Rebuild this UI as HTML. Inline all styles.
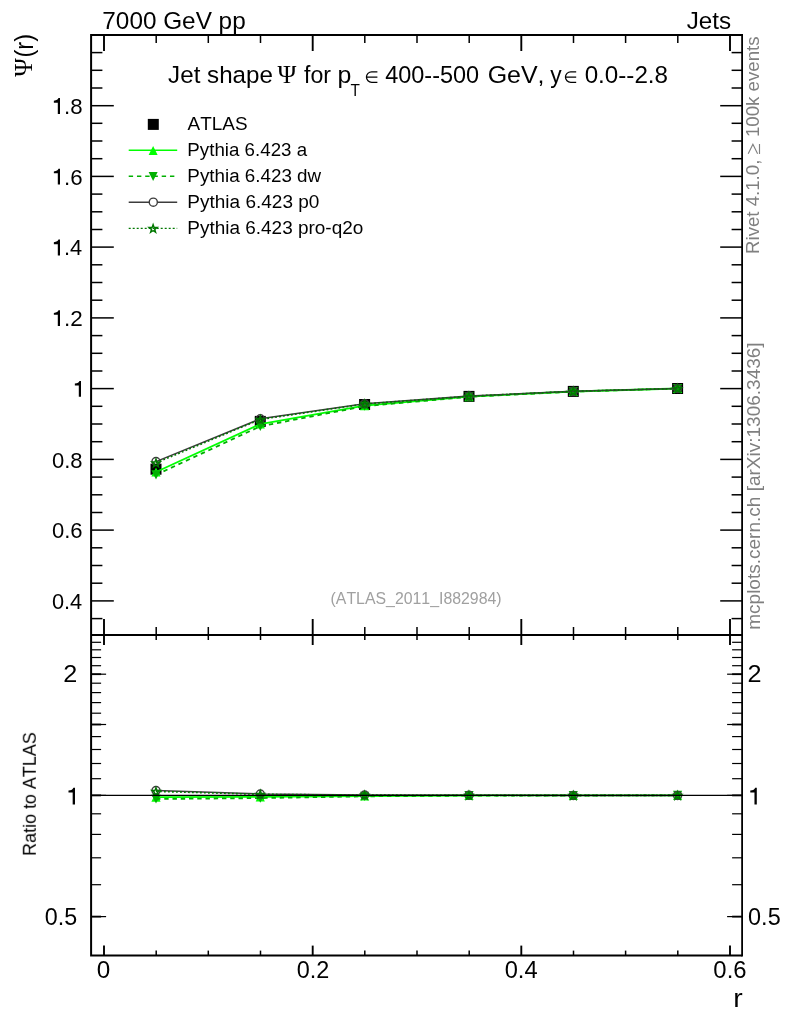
<!DOCTYPE html>
<html><head><meta charset="utf-8"><title>Jet shape</title>
<style>html,body{margin:0;padding:0;background:#fff}body{width:786px;height:1024px;overflow:hidden;font-family:"Liberation Sans",sans-serif}</style>
</head><body>
<svg width="786" height="1024" viewBox="0 0 786 1024" style="display:block">
<rect width="786" height="1024" fill="#fff"/>
<g id="main">
<rect x="150.5" y="463.7" width="11.0" height="11.0" fill="#000"/>
<rect x="254.8" y="415.9" width="11.0" height="11.0" fill="#000"/>
<rect x="359.1" y="399.0" width="11.0" height="11.0" fill="#000"/>
<rect x="463.5" y="390.9" width="11.0" height="11.0" fill="#000"/>
<rect x="567.8" y="385.9" width="11.0" height="11.0" fill="#000"/>
<rect x="672.1" y="383.0" width="11.0" height="11.0" fill="#000"/>
<polyline points="156.0,472.0 260.3,424.0 364.6,405.6 469.0,396.6 573.3,391.5 677.6,388.5" fill="none" stroke="#00ff00" stroke-width="1.8"/>
<polygon points="151.4,476.6 160.6,476.6 156.0,467.4" fill="#00ff00"/>
<polygon points="255.7,428.6 264.9,428.6 260.3,419.4" fill="#00ff00"/>
<polygon points="360.0,410.2 369.2,410.2 364.6,401.0" fill="#00ff00"/>
<polygon points="464.4,401.2 473.6,401.2 469.0,392.0" fill="#00ff00"/>
<polygon points="568.7,396.1 577.9,396.1 573.3,386.9" fill="#00ff00"/>
<polygon points="673.0,393.1 682.2,393.1 677.6,383.9" fill="#00ff00"/>
<polyline points="156.0,474.8 260.3,426.3 364.6,406.2 469.0,396.8 573.3,391.6 677.6,388.5" fill="none" stroke="#00b000" stroke-width="1.8" stroke-dasharray="4.4,3.85"/>
<polygon points="151.4,470.2 160.6,470.2 156.0,479.4" fill="#00b000"/>
<polygon points="255.7,421.7 264.9,421.7 260.3,430.9" fill="#00b000"/>
<polygon points="360.0,401.6 369.2,401.6 364.6,410.8" fill="#00b000"/>
<polygon points="464.4,392.2 473.6,392.2 469.0,401.4" fill="#00b000"/>
<polygon points="568.7,387.0 577.9,387.0 573.3,396.2" fill="#00b000"/>
<polygon points="673.0,383.9 682.2,383.9 677.6,393.1" fill="#00b000"/>
<polyline points="156.0,461.6 260.3,418.8 364.6,403.8 469.0,396.1 573.3,391.3 677.6,388.5" fill="none" stroke="#3c3c3c" stroke-width="1.5"/>
<circle cx="156.0" cy="461.6" r="4.05" fill="none" stroke="#3c3c3c" stroke-width="1.4"/>
<circle cx="260.3" cy="418.8" r="4.05" fill="none" stroke="#3c3c3c" stroke-width="1.4"/>
<circle cx="364.6" cy="403.8" r="4.05" fill="none" stroke="#3c3c3c" stroke-width="1.4"/>
<circle cx="469.0" cy="396.1" r="4.05" fill="none" stroke="#3c3c3c" stroke-width="1.4"/>
<circle cx="573.3" cy="391.3" r="4.05" fill="none" stroke="#3c3c3c" stroke-width="1.4"/>
<circle cx="677.6" cy="388.5" r="4.05" fill="none" stroke="#3c3c3c" stroke-width="1.4"/>
<polyline points="156.0,462.9 260.3,419.4 364.6,404.0 469.0,396.2 573.3,391.3 677.6,388.5" fill="none" stroke="#007800" stroke-width="1.6" stroke-dasharray="1.8,2.2"/>
<polygon points="155.97,459.10 156.95,461.94 159.96,462.00 157.56,463.82 158.43,466.70 155.97,464.98 153.50,466.70 154.37,463.82 151.97,462.00 154.98,461.94" fill="none" stroke="#007800" stroke-width="1.4" stroke-linejoin="miter"/>
<polygon points="260.30,415.60 261.28,418.44 264.29,418.50 261.89,420.32 262.76,423.20 260.30,421.48 257.83,423.20 258.70,420.32 256.30,418.50 259.31,418.44" fill="none" stroke="#007800" stroke-width="1.4" stroke-linejoin="miter"/>
<polygon points="364.62,400.20 365.61,403.04 368.62,403.10 366.22,404.92 367.09,407.80 364.62,406.08 362.16,407.80 363.03,404.92 360.63,403.10 363.64,403.04" fill="none" stroke="#007800" stroke-width="1.4" stroke-linejoin="miter"/>
<polygon points="468.95,392.40 469.94,395.24 472.95,395.30 470.55,397.12 471.42,400.00 468.95,398.28 466.49,400.00 467.36,397.12 464.96,395.30 467.97,395.24" fill="none" stroke="#007800" stroke-width="1.4" stroke-linejoin="miter"/>
<polygon points="573.28,387.50 574.27,390.34 577.28,390.40 574.88,392.22 575.75,395.10 573.28,393.38 570.82,395.10 571.69,392.22 569.29,390.40 572.30,390.34" fill="none" stroke="#007800" stroke-width="1.4" stroke-linejoin="miter"/>
<polygon points="677.62,384.70 678.60,387.54 681.61,387.60 679.21,389.42 680.08,392.30 677.62,390.58 675.15,392.30 676.02,389.42 673.62,387.60 676.63,387.54" fill="none" stroke="#007800" stroke-width="1.4" stroke-linejoin="miter"/>
</g>
<g id="ratio">
<polyline points="156.0,797.2 260.3,796.8 364.6,796.0 469.0,795.5 573.3,795.4 677.6,795.4" fill="none" stroke="#00ff00" stroke-width="1.8"/>
<polygon points="151.4,801.8 160.6,801.8 156.0,792.6" fill="#00ff00"/>
<polygon points="255.7,801.4 264.9,801.4 260.3,792.2" fill="#00ff00"/>
<polygon points="360.0,800.6 369.2,800.6 364.6,791.4" fill="#00ff00"/>
<polygon points="464.4,800.1 473.6,800.1 469.0,790.9" fill="#00ff00"/>
<polygon points="568.7,800.0 577.9,800.0 573.3,790.8" fill="#00ff00"/>
<polygon points="673.0,800.0 682.2,800.0 677.6,790.8" fill="#00ff00"/>
<polyline points="156.0,799.0 260.3,798.1 364.6,796.3 469.0,795.6 573.3,795.5 677.6,795.4" fill="none" stroke="#00b000" stroke-width="1.8" stroke-dasharray="4.4,3.85"/>
<polygon points="151.4,794.4 160.6,794.4 156.0,803.6" fill="#00b000"/>
<polygon points="255.7,793.5 264.9,793.5 260.3,802.7" fill="#00b000"/>
<polygon points="360.0,791.7 369.2,791.7 364.6,800.9" fill="#00b000"/>
<polygon points="464.4,791.0 473.6,791.0 469.0,800.2" fill="#00b000"/>
<polygon points="568.7,790.9 577.9,790.9 573.3,800.1" fill="#00b000"/>
<polygon points="673.0,790.8 682.2,790.8 677.6,800.0" fill="#00b000"/>
<polyline points="156.0,790.6 260.3,794.0 364.6,795.0 469.0,795.2 573.3,795.4 677.6,795.4" fill="none" stroke="#3c3c3c" stroke-width="1.5"/>
<circle cx="156.0" cy="790.6" r="4.05" fill="none" stroke="#3c3c3c" stroke-width="1.4"/>
<circle cx="260.3" cy="794.0" r="4.05" fill="none" stroke="#3c3c3c" stroke-width="1.4"/>
<circle cx="364.6" cy="795.0" r="4.05" fill="none" stroke="#3c3c3c" stroke-width="1.4"/>
<circle cx="469.0" cy="795.2" r="4.05" fill="none" stroke="#3c3c3c" stroke-width="1.4"/>
<circle cx="573.3" cy="795.4" r="4.05" fill="none" stroke="#3c3c3c" stroke-width="1.4"/>
<circle cx="677.6" cy="795.4" r="4.05" fill="none" stroke="#3c3c3c" stroke-width="1.4"/>
<polyline points="156.0,791.4 260.3,794.3 364.6,795.1 469.0,795.3 573.3,795.4 677.6,795.4" fill="none" stroke="#007800" stroke-width="1.6" stroke-dasharray="1.8,2.2"/>
<polygon points="155.97,787.61 156.95,790.45 159.96,790.52 157.56,792.33 158.43,795.21 155.97,793.49 153.50,795.21 154.37,792.33 151.97,790.52 154.98,790.45" fill="none" stroke="#007800" stroke-width="1.4" stroke-linejoin="miter"/>
<polygon points="260.30,790.51 261.28,793.35 264.29,793.42 261.89,795.23 262.76,798.11 260.30,796.39 257.83,798.11 258.70,795.23 256.30,793.42 259.31,793.35" fill="none" stroke="#007800" stroke-width="1.4" stroke-linejoin="miter"/>
<polygon points="364.62,791.34 365.61,794.18 368.62,794.24 366.22,796.06 367.09,798.94 364.62,797.22 362.16,798.94 363.03,796.06 360.63,794.24 363.64,794.18" fill="none" stroke="#007800" stroke-width="1.4" stroke-linejoin="miter"/>
<polygon points="468.95,791.50 469.94,794.34 472.95,794.40 470.55,796.22 471.42,799.10 468.95,797.38 466.49,799.10 467.36,796.22 464.96,794.40 467.97,794.34" fill="none" stroke="#007800" stroke-width="1.4" stroke-linejoin="miter"/>
<polygon points="573.28,791.55 574.27,794.39 577.28,794.45 574.88,796.27 575.75,799.15 573.28,797.43 570.82,799.15 571.69,796.27 569.29,794.45 572.30,794.39" fill="none" stroke="#007800" stroke-width="1.4" stroke-linejoin="miter"/>
<polygon points="677.62,791.60 678.60,794.44 681.61,794.50 679.21,796.32 680.08,799.20 677.62,797.48 675.15,799.20 676.02,796.32 673.62,794.50 676.63,794.44" fill="none" stroke="#007800" stroke-width="1.4" stroke-linejoin="miter"/>
<line x1="91.1" x2="742.1" y1="795.4" y2="795.4" stroke="#000" stroke-width="1.1"/>
</g>
<g id="axes" stroke="#000" fill="none">
<path d="M742.1,35.0 H91.1 V955.6 H742.1" stroke-width="2"/>
<line x1="742.1" x2="742.1" y1="34.0" y2="956.6" stroke-width="1.8"/>
<line x1="91.1" x2="742.1" y1="635.0" y2="635.0" stroke-width="2"/>
<line x1="104.0" y1="35.0" x2="104.0" y2="51.0" stroke-width="1.9"/>
<line x1="104.0" y1="635.0" x2="104.0" y2="619.0" stroke-width="1.9"/>
<line x1="104.0" y1="635.0" x2="104.0" y2="645.0" stroke-width="1.9"/>
<line x1="104.0" y1="955.6" x2="104.0" y2="945.6" stroke-width="1.9"/>
<line x1="156.2" y1="35.0" x2="156.2" y2="43.0" stroke-width="1.5"/>
<line x1="156.2" y1="635.0" x2="156.2" y2="627.0" stroke-width="1.5"/>
<line x1="156.2" y1="635.0" x2="156.2" y2="640.0" stroke-width="1.5"/>
<line x1="156.2" y1="955.6" x2="156.2" y2="950.6" stroke-width="1.5"/>
<line x1="208.3" y1="35.0" x2="208.3" y2="43.0" stroke-width="1.5"/>
<line x1="208.3" y1="635.0" x2="208.3" y2="627.0" stroke-width="1.5"/>
<line x1="208.3" y1="635.0" x2="208.3" y2="640.0" stroke-width="1.5"/>
<line x1="208.3" y1="955.6" x2="208.3" y2="950.6" stroke-width="1.5"/>
<line x1="260.5" y1="35.0" x2="260.5" y2="43.0" stroke-width="1.5"/>
<line x1="260.5" y1="635.0" x2="260.5" y2="627.0" stroke-width="1.5"/>
<line x1="260.5" y1="635.0" x2="260.5" y2="640.0" stroke-width="1.5"/>
<line x1="260.5" y1="955.6" x2="260.5" y2="950.6" stroke-width="1.5"/>
<line x1="312.7" y1="35.0" x2="312.7" y2="51.0" stroke-width="1.9"/>
<line x1="312.7" y1="635.0" x2="312.7" y2="619.0" stroke-width="1.9"/>
<line x1="312.7" y1="635.0" x2="312.7" y2="645.0" stroke-width="1.9"/>
<line x1="312.7" y1="955.6" x2="312.7" y2="945.6" stroke-width="1.9"/>
<line x1="364.8" y1="35.0" x2="364.8" y2="43.0" stroke-width="1.5"/>
<line x1="364.8" y1="635.0" x2="364.8" y2="627.0" stroke-width="1.5"/>
<line x1="364.8" y1="635.0" x2="364.8" y2="640.0" stroke-width="1.5"/>
<line x1="364.8" y1="955.6" x2="364.8" y2="950.6" stroke-width="1.5"/>
<line x1="417.0" y1="35.0" x2="417.0" y2="43.0" stroke-width="1.5"/>
<line x1="417.0" y1="635.0" x2="417.0" y2="627.0" stroke-width="1.5"/>
<line x1="417.0" y1="635.0" x2="417.0" y2="640.0" stroke-width="1.5"/>
<line x1="417.0" y1="955.6" x2="417.0" y2="950.6" stroke-width="1.5"/>
<line x1="469.2" y1="35.0" x2="469.2" y2="43.0" stroke-width="1.5"/>
<line x1="469.2" y1="635.0" x2="469.2" y2="627.0" stroke-width="1.5"/>
<line x1="469.2" y1="635.0" x2="469.2" y2="640.0" stroke-width="1.5"/>
<line x1="469.2" y1="955.6" x2="469.2" y2="950.6" stroke-width="1.5"/>
<line x1="521.3" y1="35.0" x2="521.3" y2="51.0" stroke-width="1.9"/>
<line x1="521.3" y1="635.0" x2="521.3" y2="619.0" stroke-width="1.9"/>
<line x1="521.3" y1="635.0" x2="521.3" y2="645.0" stroke-width="1.9"/>
<line x1="521.3" y1="955.6" x2="521.3" y2="945.6" stroke-width="1.9"/>
<line x1="573.5" y1="35.0" x2="573.5" y2="43.0" stroke-width="1.5"/>
<line x1="573.5" y1="635.0" x2="573.5" y2="627.0" stroke-width="1.5"/>
<line x1="573.5" y1="635.0" x2="573.5" y2="640.0" stroke-width="1.5"/>
<line x1="573.5" y1="955.6" x2="573.5" y2="950.6" stroke-width="1.5"/>
<line x1="625.6" y1="35.0" x2="625.6" y2="43.0" stroke-width="1.5"/>
<line x1="625.6" y1="635.0" x2="625.6" y2="627.0" stroke-width="1.5"/>
<line x1="625.6" y1="635.0" x2="625.6" y2="640.0" stroke-width="1.5"/>
<line x1="625.6" y1="955.6" x2="625.6" y2="950.6" stroke-width="1.5"/>
<line x1="677.8" y1="35.0" x2="677.8" y2="43.0" stroke-width="1.5"/>
<line x1="677.8" y1="635.0" x2="677.8" y2="627.0" stroke-width="1.5"/>
<line x1="677.8" y1="635.0" x2="677.8" y2="640.0" stroke-width="1.5"/>
<line x1="677.8" y1="955.6" x2="677.8" y2="950.6" stroke-width="1.5"/>
<line x1="730.0" y1="35.0" x2="730.0" y2="51.0" stroke-width="1.9"/>
<line x1="730.0" y1="635.0" x2="730.0" y2="619.0" stroke-width="1.9"/>
<line x1="730.0" y1="635.0" x2="730.0" y2="645.0" stroke-width="1.9"/>
<line x1="730.0" y1="955.6" x2="730.0" y2="945.6" stroke-width="1.9"/>
<line x1="91.1" y1="618.6" x2="102.4" y2="618.6" stroke-width="1.5"/>
<line x1="742.1" y1="618.6" x2="731.6" y2="618.6" stroke-width="1.5"/>
<line x1="91.1" y1="600.9" x2="113.8" y2="600.9" stroke-width="1.5"/>
<line x1="742.1" y1="600.9" x2="720.2" y2="600.9" stroke-width="1.5"/>
<line x1="91.1" y1="583.2" x2="102.4" y2="583.2" stroke-width="1.5"/>
<line x1="742.1" y1="583.2" x2="731.6" y2="583.2" stroke-width="1.5"/>
<line x1="91.1" y1="565.5" x2="102.4" y2="565.5" stroke-width="1.5"/>
<line x1="742.1" y1="565.5" x2="731.6" y2="565.5" stroke-width="1.5"/>
<line x1="91.1" y1="547.8" x2="102.4" y2="547.8" stroke-width="1.5"/>
<line x1="742.1" y1="547.8" x2="731.6" y2="547.8" stroke-width="1.5"/>
<line x1="91.1" y1="530.1" x2="113.8" y2="530.1" stroke-width="1.5"/>
<line x1="742.1" y1="530.1" x2="720.2" y2="530.1" stroke-width="1.5"/>
<line x1="91.1" y1="512.5" x2="102.4" y2="512.5" stroke-width="1.5"/>
<line x1="742.1" y1="512.5" x2="731.6" y2="512.5" stroke-width="1.5"/>
<line x1="91.1" y1="494.8" x2="102.4" y2="494.8" stroke-width="1.5"/>
<line x1="742.1" y1="494.8" x2="731.6" y2="494.8" stroke-width="1.5"/>
<line x1="91.1" y1="477.1" x2="102.4" y2="477.1" stroke-width="1.5"/>
<line x1="742.1" y1="477.1" x2="731.6" y2="477.1" stroke-width="1.5"/>
<line x1="91.1" y1="459.4" x2="113.8" y2="459.4" stroke-width="1.5"/>
<line x1="742.1" y1="459.4" x2="720.2" y2="459.4" stroke-width="1.5"/>
<line x1="91.1" y1="441.7" x2="102.4" y2="441.7" stroke-width="1.5"/>
<line x1="742.1" y1="441.7" x2="731.6" y2="441.7" stroke-width="1.5"/>
<line x1="91.1" y1="424.0" x2="102.4" y2="424.0" stroke-width="1.5"/>
<line x1="742.1" y1="424.0" x2="731.6" y2="424.0" stroke-width="1.5"/>
<line x1="91.1" y1="406.3" x2="102.4" y2="406.3" stroke-width="1.5"/>
<line x1="742.1" y1="406.3" x2="731.6" y2="406.3" stroke-width="1.5"/>
<line x1="91.1" y1="388.6" x2="113.8" y2="388.6" stroke-width="1.5"/>
<line x1="742.1" y1="388.6" x2="720.2" y2="388.6" stroke-width="1.5"/>
<line x1="91.1" y1="371.0" x2="102.4" y2="371.0" stroke-width="1.5"/>
<line x1="742.1" y1="371.0" x2="731.6" y2="371.0" stroke-width="1.5"/>
<line x1="91.1" y1="353.3" x2="102.4" y2="353.3" stroke-width="1.5"/>
<line x1="742.1" y1="353.3" x2="731.6" y2="353.3" stroke-width="1.5"/>
<line x1="91.1" y1="335.6" x2="102.4" y2="335.6" stroke-width="1.5"/>
<line x1="742.1" y1="335.6" x2="731.6" y2="335.6" stroke-width="1.5"/>
<line x1="91.1" y1="317.9" x2="113.8" y2="317.9" stroke-width="1.5"/>
<line x1="742.1" y1="317.9" x2="720.2" y2="317.9" stroke-width="1.5"/>
<line x1="91.1" y1="300.2" x2="102.4" y2="300.2" stroke-width="1.5"/>
<line x1="742.1" y1="300.2" x2="731.6" y2="300.2" stroke-width="1.5"/>
<line x1="91.1" y1="282.5" x2="102.4" y2="282.5" stroke-width="1.5"/>
<line x1="742.1" y1="282.5" x2="731.6" y2="282.5" stroke-width="1.5"/>
<line x1="91.1" y1="264.8" x2="102.4" y2="264.8" stroke-width="1.5"/>
<line x1="742.1" y1="264.8" x2="731.6" y2="264.8" stroke-width="1.5"/>
<line x1="91.1" y1="247.1" x2="113.8" y2="247.1" stroke-width="1.5"/>
<line x1="742.1" y1="247.1" x2="720.2" y2="247.1" stroke-width="1.5"/>
<line x1="91.1" y1="229.5" x2="102.4" y2="229.5" stroke-width="1.5"/>
<line x1="742.1" y1="229.5" x2="731.6" y2="229.5" stroke-width="1.5"/>
<line x1="91.1" y1="211.8" x2="102.4" y2="211.8" stroke-width="1.5"/>
<line x1="742.1" y1="211.8" x2="731.6" y2="211.8" stroke-width="1.5"/>
<line x1="91.1" y1="194.1" x2="102.4" y2="194.1" stroke-width="1.5"/>
<line x1="742.1" y1="194.1" x2="731.6" y2="194.1" stroke-width="1.5"/>
<line x1="91.1" y1="176.4" x2="113.8" y2="176.4" stroke-width="1.5"/>
<line x1="742.1" y1="176.4" x2="720.2" y2="176.4" stroke-width="1.5"/>
<line x1="91.1" y1="158.7" x2="102.4" y2="158.7" stroke-width="1.5"/>
<line x1="742.1" y1="158.7" x2="731.6" y2="158.7" stroke-width="1.5"/>
<line x1="91.1" y1="141.0" x2="102.4" y2="141.0" stroke-width="1.5"/>
<line x1="742.1" y1="141.0" x2="731.6" y2="141.0" stroke-width="1.5"/>
<line x1="91.1" y1="123.3" x2="102.4" y2="123.3" stroke-width="1.5"/>
<line x1="742.1" y1="123.3" x2="731.6" y2="123.3" stroke-width="1.5"/>
<line x1="91.1" y1="105.7" x2="113.8" y2="105.7" stroke-width="1.5"/>
<line x1="742.1" y1="105.7" x2="720.2" y2="105.7" stroke-width="1.5"/>
<line x1="91.1" y1="88.0" x2="102.4" y2="88.0" stroke-width="1.5"/>
<line x1="742.1" y1="88.0" x2="731.6" y2="88.0" stroke-width="1.5"/>
<line x1="91.1" y1="70.3" x2="102.4" y2="70.3" stroke-width="1.5"/>
<line x1="742.1" y1="70.3" x2="731.6" y2="70.3" stroke-width="1.5"/>
<line x1="91.1" y1="52.6" x2="102.4" y2="52.6" stroke-width="1.5"/>
<line x1="742.1" y1="52.6" x2="731.6" y2="52.6" stroke-width="1.5"/>
<line x1="91.1" y1="916.6" x2="106.1" y2="916.6" stroke-width="1.2"/>
<line x1="742.1" y1="916.6" x2="727.1" y2="916.6" stroke-width="1.2"/>
<line x1="91.1" y1="916.6" x2="101.1" y2="916.6" stroke-width="1.8"/>
<line x1="742.1" y1="916.6" x2="732.1" y2="916.6" stroke-width="1.8"/>
<line x1="91.1" y1="884.7" x2="101.1" y2="884.7" stroke-width="1.2"/>
<line x1="742.1" y1="884.7" x2="732.1" y2="884.7" stroke-width="1.2"/>
<line x1="91.1" y1="857.8" x2="101.1" y2="857.8" stroke-width="1.2"/>
<line x1="742.1" y1="857.8" x2="732.1" y2="857.8" stroke-width="1.2"/>
<line x1="91.1" y1="834.4" x2="101.1" y2="834.4" stroke-width="1.2"/>
<line x1="742.1" y1="834.4" x2="732.1" y2="834.4" stroke-width="1.2"/>
<line x1="91.1" y1="813.8" x2="101.1" y2="813.8" stroke-width="1.2"/>
<line x1="742.1" y1="813.8" x2="732.1" y2="813.8" stroke-width="1.2"/>
<line x1="91.1" y1="795.4" x2="106.1" y2="795.4" stroke-width="1.2"/>
<line x1="742.1" y1="795.4" x2="727.1" y2="795.4" stroke-width="1.2"/>
<line x1="91.1" y1="795.4" x2="101.1" y2="795.4" stroke-width="1.8"/>
<line x1="742.1" y1="795.4" x2="732.1" y2="795.4" stroke-width="1.8"/>
<line x1="91.1" y1="778.7" x2="101.1" y2="778.7" stroke-width="1.2"/>
<line x1="742.1" y1="778.7" x2="732.1" y2="778.7" stroke-width="1.2"/>
<line x1="91.1" y1="763.5" x2="101.1" y2="763.5" stroke-width="1.2"/>
<line x1="742.1" y1="763.5" x2="732.1" y2="763.5" stroke-width="1.2"/>
<line x1="91.1" y1="749.5" x2="101.1" y2="749.5" stroke-width="1.2"/>
<line x1="742.1" y1="749.5" x2="732.1" y2="749.5" stroke-width="1.2"/>
<line x1="91.1" y1="736.6" x2="101.1" y2="736.6" stroke-width="1.2"/>
<line x1="742.1" y1="736.6" x2="732.1" y2="736.6" stroke-width="1.2"/>
<line x1="91.1" y1="724.5" x2="106.1" y2="724.5" stroke-width="1.2"/>
<line x1="742.1" y1="724.5" x2="727.1" y2="724.5" stroke-width="1.2"/>
<line x1="91.1" y1="724.5" x2="101.1" y2="724.5" stroke-width="1.8"/>
<line x1="742.1" y1="724.5" x2="732.1" y2="724.5" stroke-width="1.8"/>
<line x1="91.1" y1="713.2" x2="101.1" y2="713.2" stroke-width="1.2"/>
<line x1="742.1" y1="713.2" x2="732.1" y2="713.2" stroke-width="1.2"/>
<line x1="91.1" y1="702.6" x2="101.1" y2="702.6" stroke-width="1.2"/>
<line x1="742.1" y1="702.6" x2="732.1" y2="702.6" stroke-width="1.2"/>
<line x1="91.1" y1="692.6" x2="101.1" y2="692.6" stroke-width="1.2"/>
<line x1="742.1" y1="692.6" x2="732.1" y2="692.6" stroke-width="1.2"/>
<line x1="91.1" y1="683.2" x2="101.1" y2="683.2" stroke-width="1.2"/>
<line x1="742.1" y1="683.2" x2="732.1" y2="683.2" stroke-width="1.2"/>
<line x1="91.1" y1="674.2" x2="106.1" y2="674.2" stroke-width="1.2"/>
<line x1="742.1" y1="674.2" x2="727.1" y2="674.2" stroke-width="1.2"/>
<line x1="91.1" y1="674.2" x2="101.1" y2="674.2" stroke-width="1.8"/>
<line x1="742.1" y1="674.2" x2="732.1" y2="674.2" stroke-width="1.8"/>
<line x1="91.1" y1="665.7" x2="101.1" y2="665.7" stroke-width="1.2"/>
<line x1="742.1" y1="665.7" x2="732.1" y2="665.7" stroke-width="1.2"/>
<line x1="91.1" y1="657.5" x2="101.1" y2="657.5" stroke-width="1.2"/>
<line x1="742.1" y1="657.5" x2="732.1" y2="657.5" stroke-width="1.2"/>
<line x1="91.1" y1="649.8" x2="101.1" y2="649.8" stroke-width="1.2"/>
<line x1="742.1" y1="649.8" x2="732.1" y2="649.8" stroke-width="1.2"/>
<line x1="91.1" y1="642.3" x2="101.1" y2="642.3" stroke-width="1.2"/>
<line x1="742.1" y1="642.3" x2="732.1" y2="642.3" stroke-width="1.2"/>
</g>
<g id="text" opacity="0.999">
<g transform="translate(102.35,28.8) scale(1.0352,1)"><text font-size="23.5" fill="#000" style="font-family:'Liberation Sans',sans-serif;font-kerning:none">7000 GeV pp</text></g>
<g transform="translate(686.72,28.8) scale(1.0315,1)"><text font-size="23.5" fill="#000" style="font-family:'Liberation Sans',sans-serif;font-kerning:none">Jets</text></g>
<g transform="translate(168.12,83) scale(1.0289,1)"><text font-size="23.5" fill="#000" style="font-family:'Liberation Sans',sans-serif;font-kerning:none">Jet shape</text></g>
<g transform="translate(277.53,83) scale(0.9820,1)"><text font-size="26" fill="#000" style="font-family:'Liberation Serif',serif;font-kerning:none">Ψ</text></g>
<g transform="translate(303.97,83) scale(0.9850,1)"><text font-size="23.5" fill="#000" style="font-family:'Liberation Sans',sans-serif;font-kerning:none">for</text></g>
<g transform="translate(337.59,83) scale(1.0598,1)"><text font-size="23.5" fill="#000" style="font-family:'Liberation Sans',sans-serif;font-kerning:none">p</text></g>
<g transform="translate(350.45,95.5) scale(0.9738,1)"><text font-size="15.8" fill="#000" style="font-family:'Liberation Sans',sans-serif;font-kerning:none">T</text></g>
<path d="M377.40,71.85 H371.70 A5.25,5.25 0 0 0 371.70,82.35 H377.40 M366.45,77.10 H377.40" fill="none" stroke="#000" stroke-width="1.3"/>
<g transform="translate(385.16,83) scale(0.9999,1)"><text font-size="23.5" fill="#000" style="font-family:'Liberation Sans',sans-serif;font-kerning:none">400--500</text></g>
<g transform="translate(487.64,83) scale(1.0625,1)"><text font-size="23.5" fill="#000" style="font-family:'Liberation Sans',sans-serif;font-kerning:none">GeV,</text></g>
<g transform="translate(550.24,83) scale(0.9702,1)"><text font-size="23.5" fill="#000" style="font-family:'Liberation Sans',sans-serif;font-kerning:none">y</text></g>
<path d="M576.20,71.85 H570.70 A5.25,5.25 0 0 0 570.70,82.35 H576.20 M565.45,77.10 H576.20" fill="none" stroke="#000" stroke-width="1.3"/>
<g transform="translate(584.65,83) scale(1.0297,1)"><text font-size="23.5" fill="#000" style="font-family:'Liberation Sans',sans-serif;font-kerning:none">0.0--2.8</text></g>
<g transform="translate(187.56,129.6) scale(1.0641,1)"><text font-size="17.8" fill="#000" style="font-family:'Liberation Sans',sans-serif;font-kerning:none">ATLAS</text></g>
<g transform="translate(187.36,155.7) scale(1.0530,1)"><text font-size="17.8" fill="#000" style="font-family:'Liberation Sans',sans-serif;font-kerning:none">Pythia 6.423 a</text></g>
<g transform="translate(187.36,181.8) scale(1.0563,1)"><text font-size="17.8" fill="#000" style="font-family:'Liberation Sans',sans-serif;font-kerning:none">Pythia 6.423 dw</text></g>
<g transform="translate(187.34,207.9) scale(1.0679,1)"><text font-size="17.8" fill="#000" style="font-family:'Liberation Sans',sans-serif;font-kerning:none">Pythia 6.423 p0</text></g>
<g transform="translate(187.34,234.0) scale(1.0659,1)"><text font-size="17.8" fill="#000" style="font-family:'Liberation Sans',sans-serif;font-kerning:none">Pythia 6.423 pro-q2o</text></g>
<rect x="147.8" y="118.9" width="11.0" height="11.0" fill="#000"/>
<line x1="128.7" x2="177.2" y1="150.2" y2="150.2" stroke="#00ff00" stroke-width="1.5"/>
<polygon points="148.6,155.0 157.6,155.0 153.1,146.0" fill="#00ff00"/>
<line x1="128.7" x2="177.2" y1="176.2" y2="176.2" stroke="#00b000" stroke-width="1.5" stroke-dasharray="4.4,3.85"/>
<polygon points="148.6,172.0 157.6,172.0 153.1,181.0" fill="#00b000"/>
<line x1="128.7" x2="177.2" y1="202.2" y2="202.2" stroke="#3c3c3c" stroke-width="1.4"/>
<circle cx="153.3" cy="202.2" r="4.05" fill="#fff" stroke="#3c3c3c" stroke-width="1.4"/>
<line x1="128.7" x2="177.2" y1="228.4" y2="228.4" stroke="#007800" stroke-width="1.4" stroke-dasharray="2,2"/>
<polygon points="153.10,224.60 154.09,227.44 157.09,227.50 154.70,229.32 155.57,232.20 153.10,230.48 150.63,232.20 151.50,229.32 149.11,227.50 152.11,227.44" fill="none" stroke="#007800" stroke-width="1.4" stroke-linejoin="miter"/>
<g transform="translate(51.95,609.1) scale(0.9599,1)"><text font-size="22.7" fill="#000" style="font-family:'Liberation Sans',sans-serif;font-kerning:none">0.4</text></g>
<g transform="translate(51.94,538.4) scale(0.9706,1)"><text font-size="22.7" fill="#000" style="font-family:'Liberation Sans',sans-serif;font-kerning:none">0.6</text></g>
<g transform="translate(51.94,467.6) scale(0.9703,1)"><text font-size="22.7" fill="#000" style="font-family:'Liberation Sans',sans-serif;font-kerning:none">0.8</text></g>
<path transform="translate(81.0,396.8) scale(1.0)" fill="#000" d="M0,0 L0,-15.8 L-1.55,-15.8 C-1.95,-14.3 -3.4,-13.3 -6.15,-13.2 L-6.15,-11.25 L-2.2,-11.25 L-2.2,0 Z"/>
<path transform="translate(60.0,326.1) scale(1.0)" fill="#000" d="M0,0 L0,-15.8 L-1.55,-15.8 C-1.95,-14.3 -3.4,-13.3 -6.15,-13.2 L-6.15,-11.25 L-2.2,-11.25 L-2.2,0 Z"/>
<g transform="translate(63.95,326.1) scale(0.9894,1)"><text font-size="22.7" fill="#000" style="font-family:'Liberation Sans',sans-serif;font-kerning:none">.2</text></g>
<path transform="translate(60.0,255.4) scale(1.0)" fill="#000" d="M0,0 L0,-15.8 L-1.55,-15.8 C-1.95,-14.3 -3.4,-13.3 -6.15,-13.2 L-6.15,-11.25 L-2.2,-11.25 L-2.2,0 Z"/>
<g transform="translate(64.01,255.4) scale(0.9602,1)"><text font-size="22.7" fill="#000" style="font-family:'Liberation Sans',sans-serif;font-kerning:none">.4</text></g>
<path transform="translate(60.0,184.6) scale(1.0)" fill="#000" d="M0,0 L0,-15.8 L-1.55,-15.8 C-1.95,-14.3 -3.4,-13.3 -6.15,-13.2 L-6.15,-11.25 L-2.2,-11.25 L-2.2,0 Z"/>
<g transform="translate(63.97,184.6) scale(0.9804,1)"><text font-size="22.7" fill="#000" style="font-family:'Liberation Sans',sans-serif;font-kerning:none">.6</text></g>
<path transform="translate(60.0,113.9) scale(1.0)" fill="#000" d="M0,0 L0,-15.8 L-1.55,-15.8 C-1.95,-14.3 -3.4,-13.3 -6.15,-13.2 L-6.15,-11.25 L-2.2,-11.25 L-2.2,0 Z"/>
<g transform="translate(63.97,113.9) scale(0.9797,1)"><text font-size="22.7" fill="#000" style="font-family:'Liberation Sans',sans-serif;font-kerning:none">.8</text></g>
<g transform="translate(63.33,682.4) scale(1.0518,1)"><text font-size="24" fill="#000" style="font-family:'Liberation Sans',sans-serif;font-kerning:none">2</text></g>
<g transform="translate(747.43,682.4) scale(1.0518,1)"><text font-size="24" fill="#000" style="font-family:'Liberation Sans',sans-serif;font-kerning:none">2</text></g>
<path transform="translate(75.0,804.5) scale(1.06)" fill="#000" d="M0,0 L0,-15.8 L-1.55,-15.8 C-1.95,-14.3 -3.4,-13.3 -6.15,-13.2 L-6.15,-11.25 L-2.2,-11.25 L-2.2,0 Z"/>
<path transform="translate(756.8,804.5) scale(1.06)" fill="#000" d="M0,0 L0,-15.8 L-1.55,-15.8 C-1.95,-14.3 -3.4,-13.3 -6.15,-13.2 L-6.15,-11.25 L-2.2,-11.25 L-2.2,0 Z"/>
<g transform="translate(44.79,925.3) scale(0.9708,1)"><text font-size="24" fill="#000" style="font-family:'Liberation Sans',sans-serif;font-kerning:none">0.5</text></g>
<g transform="translate(748.08,925.3) scale(0.9771,1)"><text font-size="24" fill="#000" style="font-family:'Liberation Sans',sans-serif;font-kerning:none">0.5</text></g>
<g transform="translate(96.75,977.9) scale(1.0111,1)"><text font-size="24" fill="#000" style="font-family:'Liberation Sans',sans-serif;font-kerning:none">0</text></g>
<g transform="translate(296.68,977.9) scale(0.9770,1)"><text font-size="24" fill="#000" style="font-family:'Liberation Sans',sans-serif;font-kerning:none">0.2</text></g>
<g transform="translate(504.67,977.9) scale(0.9867,1)"><text font-size="24" fill="#000" style="font-family:'Liberation Sans',sans-serif;font-kerning:none">0.4</text></g>
<g transform="translate(713.37,977.9) scale(0.9945,1)"><text font-size="24" fill="#000" style="font-family:'Liberation Sans',sans-serif;font-kerning:none">0.6</text></g>
<g transform="translate(733.21,1006.5) scale(1.1360,1)"><text font-size="25" fill="#000" style="font-family:'Liberation Sans',sans-serif;font-kerning:none">r</text></g>
<g transform="translate(32.4,76.87) rotate(-90) scale(1.0103,1)"><text font-size="25" fill="#000" style="font-family:'Liberation Serif',serif;font-kerning:none">Ψ</text></g>
<g transform="translate(33.2,57.57) rotate(-90) scale(0.9463,1)"><text font-size="25" fill="#000" style="font-family:'Liberation Sans',sans-serif;font-kerning:none">(r)</text></g>
<g transform="translate(35.8,855.87) rotate(-90) scale(1.0264,1)"><text font-size="17.5" fill="#000" style="font-family:'Liberation Sans',sans-serif;font-kerning:none">Ratio to ATLAS</text></g>
<g transform="translate(759.4,253.93) rotate(-90) scale(1.0133,1)"><text font-size="18.4" fill="#808080" style="font-family:'Liberation Sans',sans-serif;font-kerning:none">Rivet 4.1.0,</text></g>
<path d="M748.2,153.8 L752.9,144.3 L757.6,153.8 M759.5,143.9 V154" fill="none" stroke="#808080" stroke-width="1.15"/>
<g transform="translate(759.4,137.02) rotate(-90) scale(1.0149,1)"><text font-size="18.4" fill="#808080" style="font-family:'Liberation Sans',sans-serif;font-kerning:none">100k events</text></g>
<g transform="translate(759.8,629.76) rotate(-90) scale(1.0335,1)"><text font-size="18.4" fill="#808080" style="font-family:'Liberation Sans',sans-serif;font-kerning:none">mcplots.cern.ch [arXiv:1306.3436]</text></g>
<g transform="translate(330.52,604.2) scale(1.0044,1)"><text font-size="15.8" fill="#a0a0a0" style="font-family:'Liberation Sans',sans-serif;font-kerning:none">(ATLAS_2011_I882984)</text></g>
</g>
</svg>
</body></html>
